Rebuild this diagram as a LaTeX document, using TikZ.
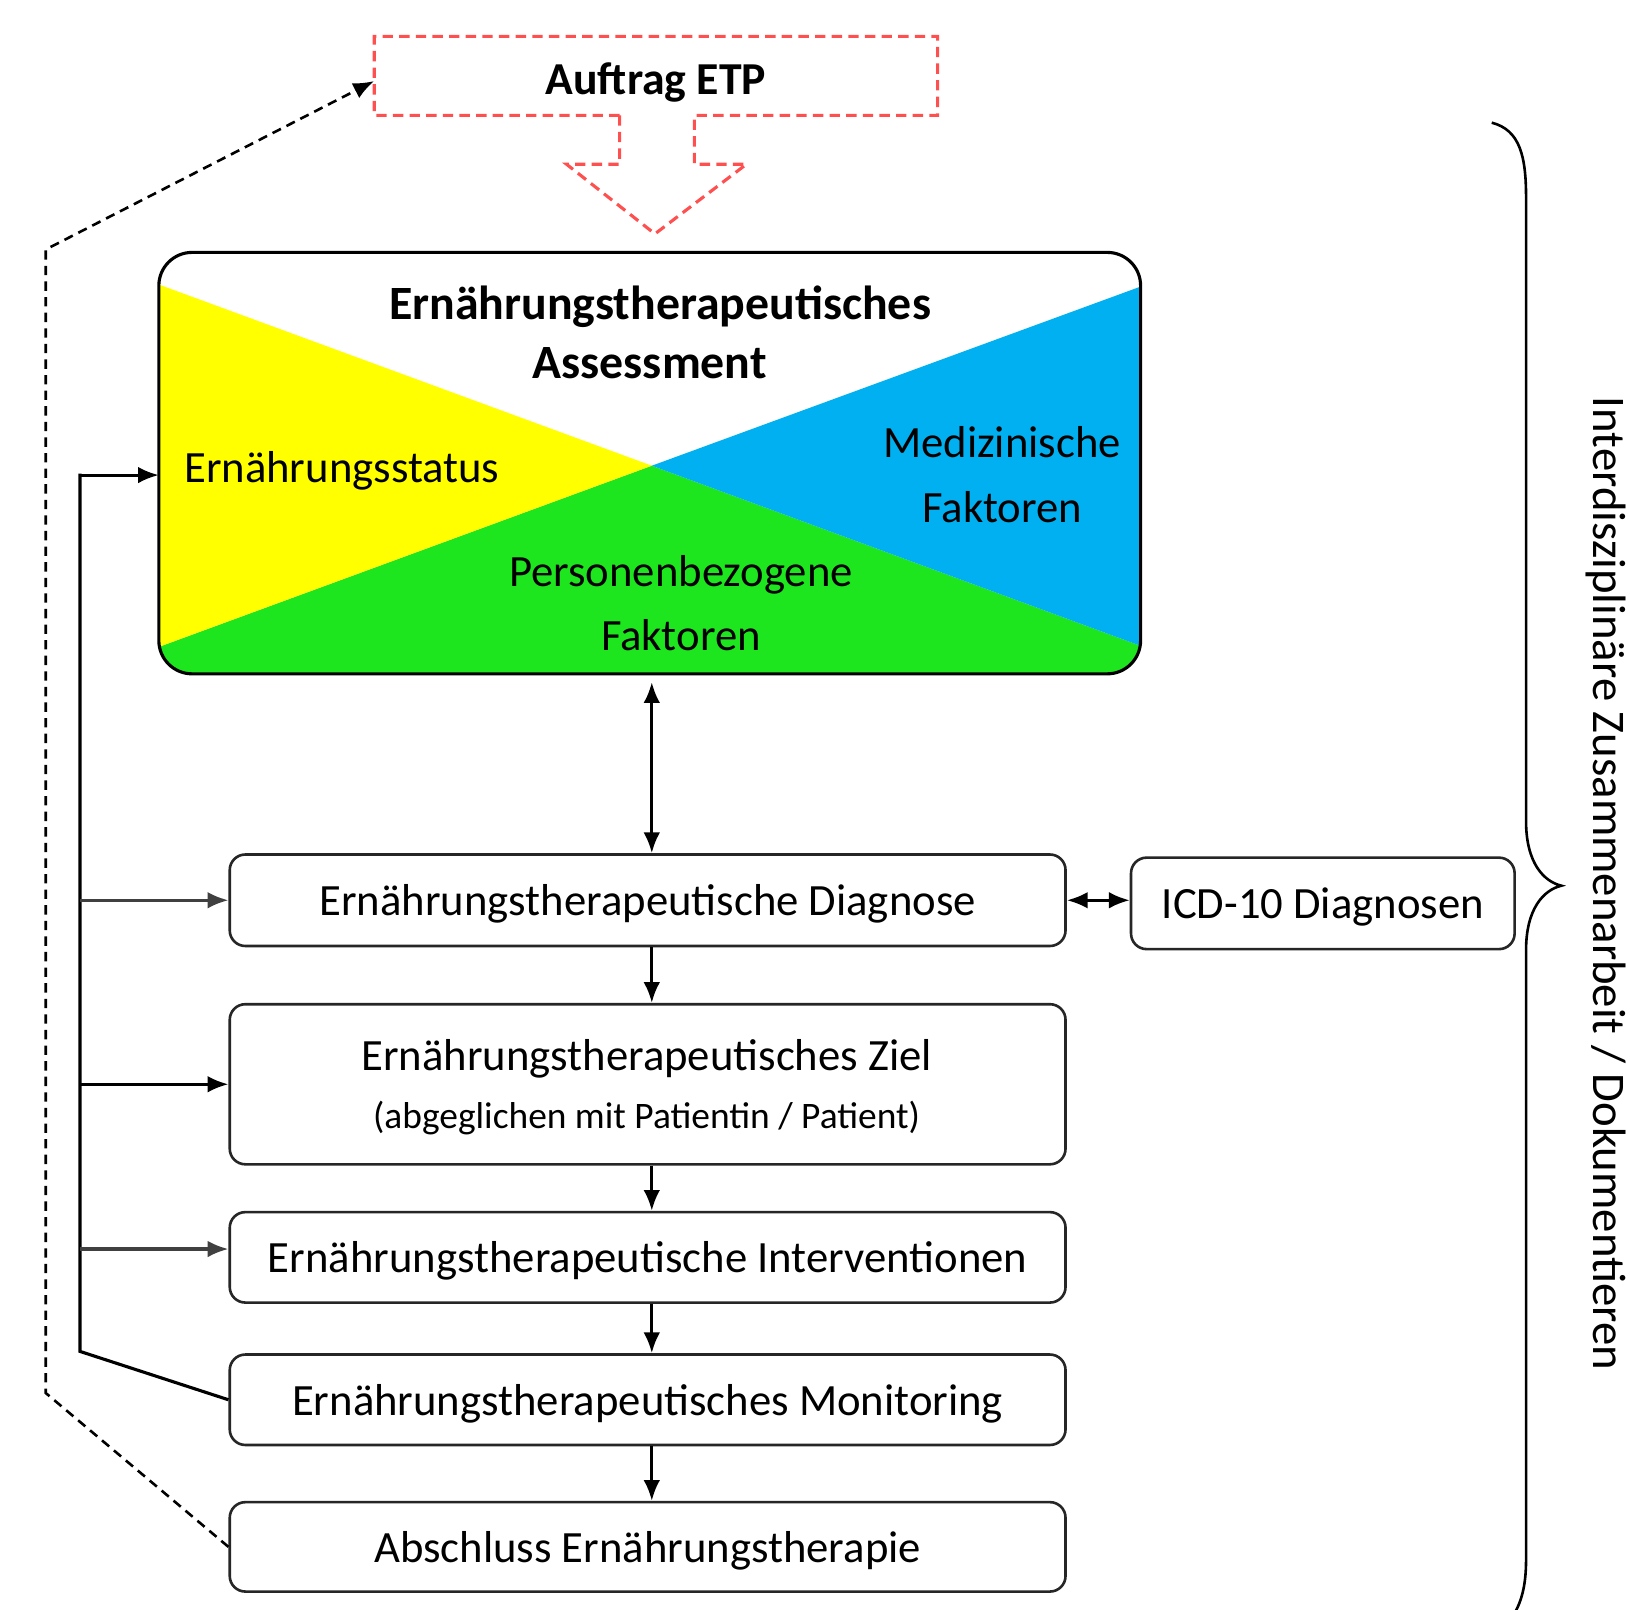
\documentclass[tikz,border=0pt]{standalone}
\usepackage{fontspec}
\setmainfont{Carlito}
\usetikzlibrary{arrows.meta,calc}
\definecolor{etpyellow}{RGB}{255,255,0}
\definecolor{etpblue}{RGB}{0,176,240}
\definecolor{etpgreen}{RGB}{30,230,30}
\definecolor{etpred}{RGB}{255,80,80}
\begin{document}
\begin{tikzpicture}[x=1pt,y=-1pt,
  txt/.style={text height=34pt, text depth=4pt},
  stepbox/.style={draw=black!85, line width=2.5pt, rounded corners=15pt, minimum width=804pt, minimum height=88pt, inner sep=0pt, txt, font=\fontsize{43}{50}\selectfont},
  lbl/.style={inner sep=0pt, txt, font=\fontsize{43}{50}\selectfont},
  arr/.style={line width=3pt, -{Latex[length=20pt,width=16pt]}},
  darr/.style={line width=3pt, {Latex[length=20pt,width=16pt]}-{Latex[length=20pt,width=16pt]}},
]
\useasboundingbox (0,0) rectangle (1568,1548);
\fill[white] (0,0) rectangle (1568,1548);

% Auftrag ETP
\node[inner sep=0pt, minimum width=542pt, minimum height=60pt, text height=30pt, text depth=4pt, font=\bfseries\fontsize{44}{50}\selectfont] (auftrag) at (631,78) {Auftrag ETP};
\draw[etpred, line width=3pt, dash pattern=on 10pt off 6pt]
  (596,111) -- (360,111) -- (360,35) -- (902,35) -- (902,111) -- (668,111)
  -- (668,158) -- (718,158) -- (630,225) -- (545,158) -- (596,158) -- cycle;

% Assessment
\node[inner sep=0pt, minimum width=944pt, minimum height=405pt] (assess) at (625,445.5) {};
\begin{scope}
  \clip[rounded corners=32pt] (assess.north west) rectangle (assess.south east);
  \fill[white] (140,230) rectangle (1110,660);
  \fill[etpgreen] (140,627) -- (627,448) -- (1110,626) -- (1110,660) -- (140,660) -- cycle;
  \fill[etpyellow] (140,269) -- (627,448) -- (140,627) -- cycle;
  \fill[etpblue] (1110,271) -- (627,448) -- (1110,626) -- cycle;
\end{scope}
\draw[black, line width=3pt, rounded corners=32pt] (assess.north west) rectangle (assess.south east);
\node[lbl, font=\bfseries\fontsize{46}{52}\selectfont] (title1) at (635,292) {Ernährungstherapeutisches};
\node[lbl, font=\bfseries\fontsize{46}{52}\selectfont] (title2) at (625,349) {Assessment};
\node[lbl, anchor=west] (status) at (177,449) {Ernährungsstatus};
\node[lbl] (med1) at (964,425) {Medizinische};
\node[lbl] (med2) at (964,488) {Faktoren};
\node[lbl] (pers1) at (655,549) {Personenbezogene};
\node[lbl] (pers2) at (655,611) {Faktoren};

% Steps
\node[stepbox] (diag) at (623,866) {Ernährungstherapeutische Diagnose};
\node[stepbox, minimum height=154pt] (ziel) at (623,1043) {};
\node[lbl] (ziel1) at (622,1015) {Ernährungstherapeutisches Ziel};
\node[lbl, font=\fontsize{36}{40}\selectfont] (ziel2) at (622,1071) {(abgeglichen mit Patientin / Patient)};
\node[stepbox, minimum height=87pt] (interv) at (623,1209.5) {Ernährungstherapeutische Interventionen};
\node[stepbox, minimum height=87pt] (mon) at (623,1346.5) {Ernährungstherapeutisches Monitoring};
\node[stepbox, minimum height=86pt] (absch) at (623,1488) {Abschluss Ernährungstherapie};
\node[stepbox, minimum width=369pt] (icd) at (1272.5,869) {ICD-10 Diagnosen};

% Main arrows
\draw[darr] ([xshift=2pt,yshift=-8pt]assess.south) -- ([xshift=4pt]diag.north);
\draw[darr] (diag.east) -- (diag.east -| icd.west);
\draw[arr] ([xshift=4pt]diag.south) -- ([xshift=4pt]ziel.north);
\draw[arr] ([xshift=4pt]ziel.south) -- ([xshift=4pt]interv.north);
\draw[arr] ([xshift=4pt]interv.south) -- ([xshift=4pt]mon.north);
\draw[arr] ([xshift=4pt]mon.south) -- ([xshift=4pt]absch.north);

% Feedback loop
\coordinate (fbtop) at (77,457);
\coordinate (fbbot) at (77,1300);
\draw[line width=3pt, line join=miter] (mon.west) -- (fbbot) -- (fbtop) -- ++(1.5,0);
\draw[arr] (fbtop) -- (fbtop -| assess.west);
\draw[arr, draw=black!75] (fbtop |- diag.west) -- (diag.west);
\draw[arr] (fbtop |- ziel.west) -- (ziel.west);
\draw[arr, draw=black!75] ([yshift=8pt]fbtop |- interv.west) -- ([yshift=8pt]interv.west);

% Dashed return to Auftrag
\coordinate (dbot) at (44,1340);
\coordinate (dtop) at (44,240);
\draw[line width=2.5pt, dash pattern=on 9pt off 6pt, -{Latex[length=20pt,width=16pt]}]
  (absch.west) -- (dbot) -- (dtop) -- (auftrag.west);

% Brace
\draw[line width=2.5pt] (1435,118) .. controls (1462,125) and (1468,150) .. (1468,190)
  -- (1468,790) .. controls (1468,830) and (1485,848) .. (1502,852)
  .. controls (1485,856) and (1468,874) .. (1468,914)
  -- (1468,1500) .. controls (1468,1530) and (1462,1545) .. (1452,1560);
\node[rotate=-90, anchor=base, inner sep=0pt, font=\fontsize{45}{50}\selectfont] (side) at (1533,850) {Interdisziplinäre Zusammenarbeit / Dokumentieren};
\end{tikzpicture}
\end{document}
